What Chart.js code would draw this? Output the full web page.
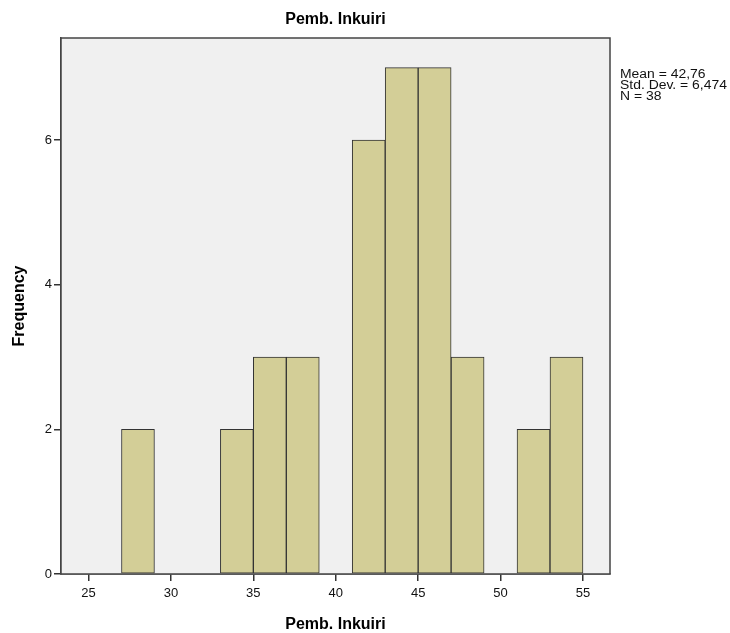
<!DOCTYPE html>
<html>
<head>
<meta charset="utf-8">
<script src="https://cdn.jsdelivr.net/npm/chart.js@4"></script>
<style>
html,body{margin:0;padding:0;background:#fff;}
#wrap{width:730px;height:633px;position:relative;}
</style>
</head>
<body>
<div id="wrap"><canvas id="c" width="730" height="633"></canvas></div>
<script>
// Data
const binCenters = [28, 30, 32, 34, 36, 38, 40, 42, 44, 46, 48, 50, 52, 54];
const frequencies = [2, 0, 0, 2, 3, 3, 0, 6, 7, 7, 3, 0, 2, 3];
const xTicks = [25, 30, 35, 40, 45, 50, 55];
const yTicks = [0, 2, 4, 6];
const statsLines = ["Mean = 42,76", "Std. Dev. = 6,474", "N = 38"];
const chartTitle = "Pemb. Inkuiri";
const xTitle = "Pemb. Inkuiri";
const yTitle = "Frequency";

const FONT = "'Liberation Sans', Arial, sans-serif";

const decor = {
  id: 'decor',
  beforeDatasetsDraw(chart) {
    const a = chart.chartArea, ctx = chart.ctx;
    ctx.save();
    ctx.fillStyle = '#f0f0f0';
    ctx.fillRect(a.left, a.top, a.right - a.left, a.bottom - a.top);
    ctx.restore();
  },
  afterDraw(chart) {
    const a = chart.chartArea, ctx = chart.ctx;
    ctx.save();
    ctx.strokeStyle = '#444';
    ctx.lineWidth = 1.5;
    ctx.strokeRect(a.left, a.top, a.right - a.left, a.bottom - a.top);
    ctx.fillStyle = '#000';
    ctx.textAlign = 'center';
    ctx.textBaseline = 'middle';
    ctx.font = 'bold 16px ' + FONT;
    ctx.fillText(chartTitle, (a.left + a.right) / 2, 20);
    ctx.font = 'bold 16px ' + FONT;
    ctx.fillText(xTitle, (a.left + a.right) / 2, 625);
    ctx.save();
    ctx.translate(20, (a.top + a.bottom) / 2);
    ctx.rotate(-Math.PI / 2);
    ctx.fillText(yTitle, 0, 0);
    ctx.restore();
    ctx.font = '12px ' + FONT;
    ctx.textAlign = 'left';
    ctx.fillStyle = '#111';
    statsLines.forEach((s, i) => {
      ctx.save();
      ctx.translate(620, 75 + i * 10.8);
      ctx.scale(1.16, 1);
      ctx.fillText(s, 0, 0);
      ctx.restore();
    });
    ctx.restore();
  }
};

new Chart(document.getElementById('c'), {
  type: 'bar',
  data: {
    datasets: [{
      data: binCenters.map((x, i) => ({x: x, y: frequencies[i]})),
      backgroundColor: 'rgb(211,206,151)',
      borderColor: '#333',
      borderWidth: 1,
      borderSkipped: false,
      barPercentage: 1,
      categoryPercentage: 1,
      grouped: false
    }]
  },
  options: {
    responsive: false,
    animation: false,
    devicePixelRatio: 1,
    layout: {padding: {top: 38, right: 120, bottom: 0, left: 0}},
    plugins: {legend: {display: false}, title: {display: false}, tooltip: {enabled: false}},
    scales: {
      x: {
        type: 'linear',
        min: 23.33, max: 56.64,
        offset: false,
        afterFit(s) { s.height = 59; },
        afterBuildTicks(s) { s.ticks = xTicks.map(v => ({value: v})); },
        grid: {display: true, offset: false, drawOnChartArea: false, drawTicks: true, tickLength: 7, color: '#333', lineWidth: 1.5},
        border: {display: true, color: '#444', width: 1.5},
        ticks: {color: '#111', font: {family: FONT, size: 13}, padding: 5}
      },
      y: {
        type: 'linear',
        min: 0, max: 7.41,
        afterFit(s) { s.width = 61; },
        afterBuildTicks(s) { s.ticks = yTicks.map(v => ({value: v})); },
        grid: {display: true, offset: false, drawOnChartArea: false, drawTicks: true, tickLength: 7, color: '#333', lineWidth: 1.5},
        border: {display: true, color: '#444', width: 1.5},
        ticks: {color: '#111', font: {family: FONT, size: 13}, padding: 2}
      }
    }
  },
  plugins: [decor]
});
</script>
</body>
</html>
